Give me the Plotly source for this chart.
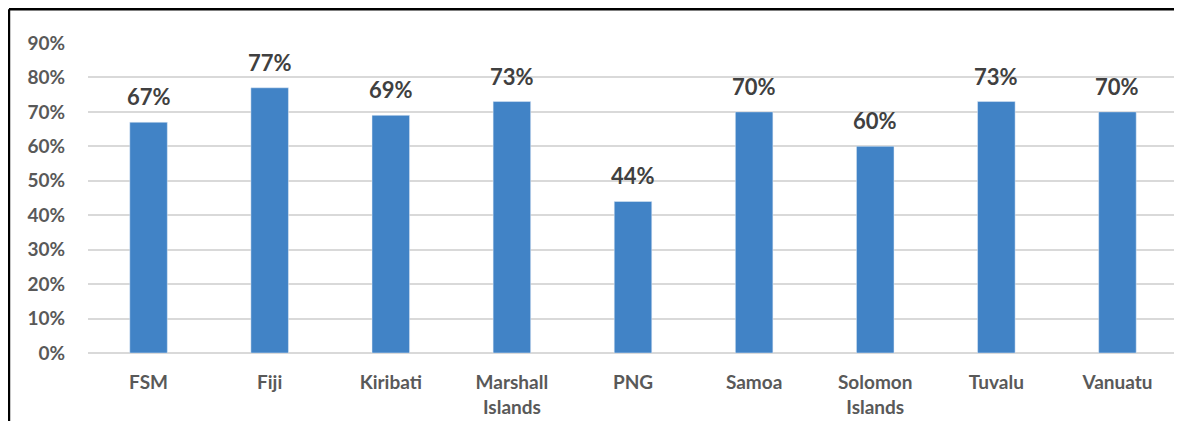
import plotly.graph_objects as go

countries = ["FSM", "Fiji", "Kiribati", "Marshall<br>Islands", "PNG", "Samoa",
             "Solomon<br>Islands", "Tuvalu", "Vanuatu"]
shares = [0.67, 0.77, 0.69, 0.73, 0.44, 0.70, 0.60, 0.73, 0.70]
y_ticks = [0, 0.1, 0.2, 0.3, 0.4, 0.5, 0.6, 0.7, 0.8, 0.9]

BLUE = "#4183C6"
FONT = "Lato"

fig = go.Figure(go.Bar(
    x=countries, y=shares, marker_color=BLUE, width=0.31,
    hoverinfo="skip",
))

for c, v in zip(countries, shares):
    fig.add_annotation(x=c, y=v, text=f"<b>{round(v * 100)}%</b>", showarrow=False,
                       yanchor="bottom", yshift=10,
                       font=dict(family=FONT, size=22, color="#404040"))

# frame around the chart (left + top, as in the scan); page has an 8px body offset
fig.add_shape(type="line", xref="paper", yref="paper", x0=-0.0725, x1=-0.0725, y0=-0.4, y1=1.109,
              line=dict(color="black", width=2.5))
fig.add_shape(type="line", xref="paper", yref="paper", x0=-0.0725, x1=1.02, y0=1.109, y1=1.109,
              line=dict(color="black", width=2.5))

fig.update_layout(
    width=1182, height=421,
    margin=dict(l=80, r=12, t=35, b=76),
    paper_bgcolor="white", plot_bgcolor="white",
    showlegend=False,
    bargap=0.69,
    font=dict(family=FONT, size=19, color="#595959"),
    xaxis=dict(showgrid=False, showline=False, ticks="", ticklabelstandoff=16,
               tickfont=dict(family=FONT, size=19, color="#595959", weight="bold")),
    yaxis=dict(range=[0, 0.9], tickvals=y_ticks, tickformat=".0%",
               showgrid=True, gridcolor="#D9D9D9", gridwidth=2,
               zeroline=True, zerolinecolor="#D9D9D9", zerolinewidth=2,
               showline=False, ticks="", ticklabelstandoff=22,
               tickfont=dict(family=FONT, size=19, color="#595959", weight="bold")),
)

fig.write_html("out.html")
